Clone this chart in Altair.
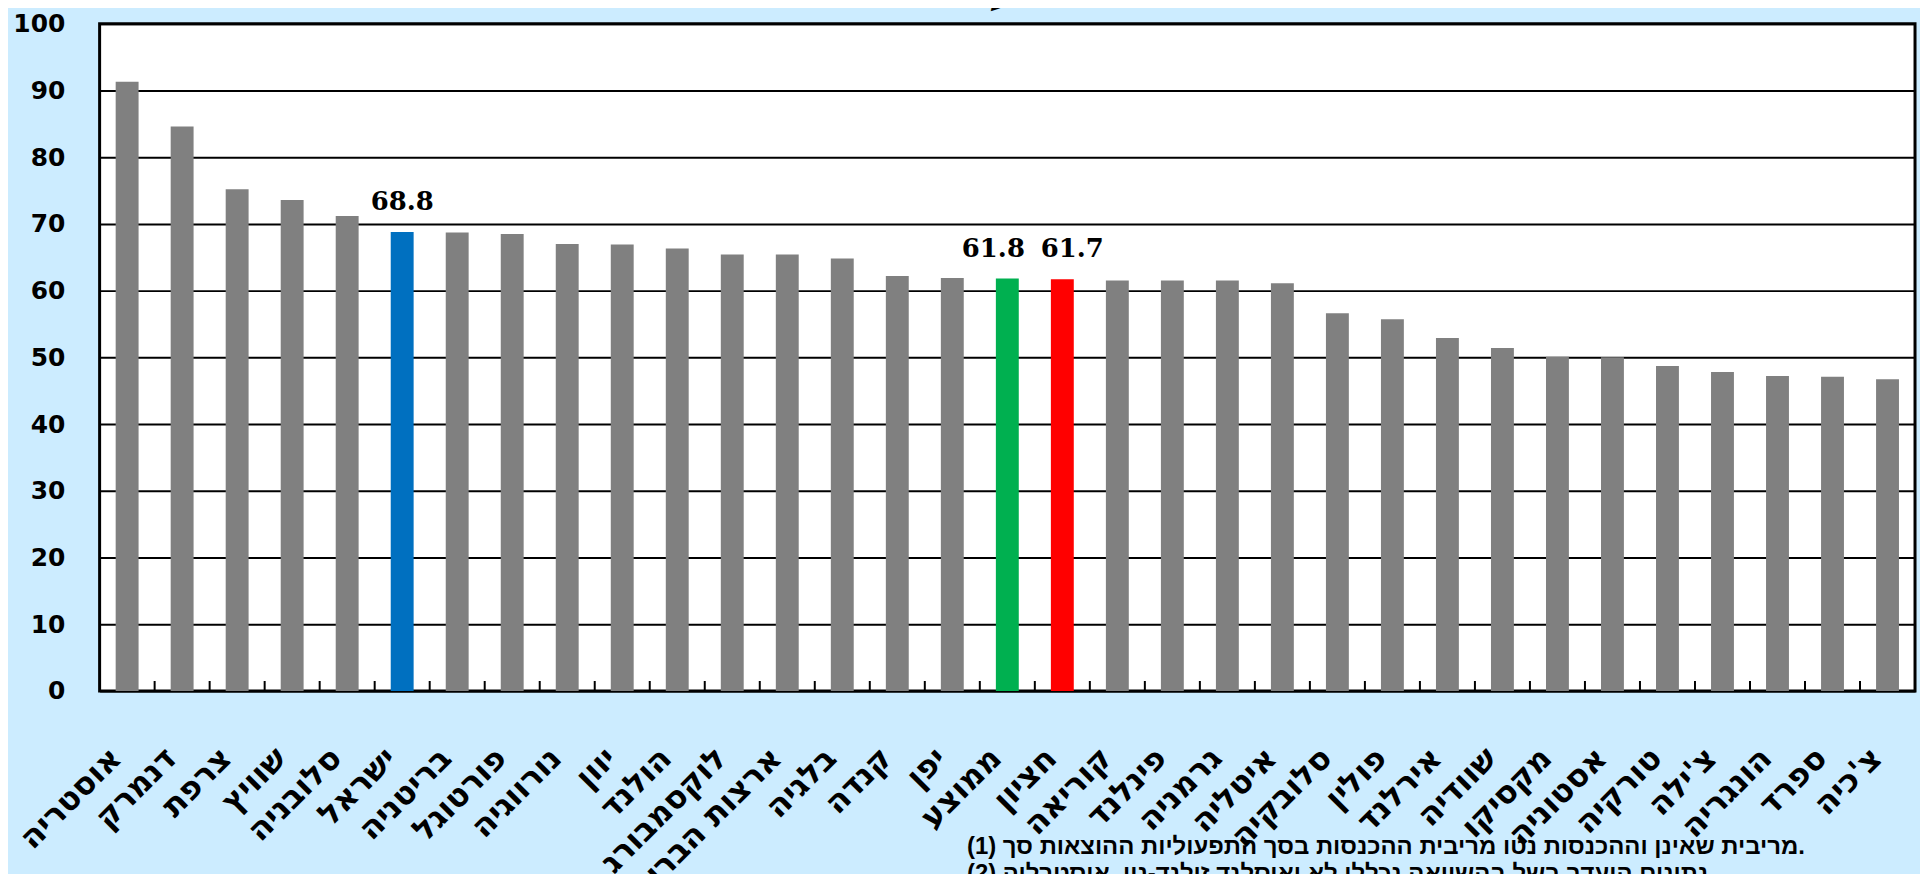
import altair as alt
import pandas as pd

countries = [
    "אוסטריה", "דנמרק", "צרפת", "שוויץ", "סלובניה", "ישראל", "בריטניה",
    "פורטוגל", "נורווגיה", "יוון", "הולנד", "לוקסמבורג", "ארצות הברית",
    "בלגיה", "קנדה", "יפן", "ממוצע", "חציון", "קוריאה", "פינלנד", "גרמניה",
    "איטליה", "סלובקיה", "פולין", "אירלנד", "שוודיה", "מקסיקו", "אסטוניה",
    "טורקיה", "צ'ילה", "הונגריה", "ספרד", "צ'כיה",
]
values = [
    91.3, 84.6, 75.2, 73.6, 71.2, 68.8, 68.7,
    68.5, 67.0, 66.9, 66.3, 65.4, 65.4,
    64.8, 62.2, 61.9, 61.8, 61.7, 61.5, 61.5, 61.5,
    61.1, 56.6, 55.7, 52.9, 51.4, 50.1, 50.0,
    48.7, 47.8, 47.2, 47.1, 46.7,
]
highlight_names = ["ישראל", "ממוצע", "חציון"]
highlight_colors = ["#0070C0", "#00B050", "#FF0000"]
other_color = "#808080"
y_ticks = [0, 10, 20, 30, 40, 50, 60, 70, 80, 90, 100]
title_text = "\u202B2012 עד 2013\u202C"
footnotes = [
    "(1) סך ההוצאות התפעוליות בסך ההכנסות מריבית נטו וההכנסות שאינן מריבית.",
    "(2) אוסטרליה, ניו-זילנד ואיסלנד לא נכללו בהשוואה בשל היעדר נתונים.",
]

# horizontal nudges of the value labels (style only)
label_dx = {"ישראל": 0, "ממוצע": -14, "חציון": 10}

W, H = 1823, 670
band = W / len(countries)
LRM = "\u200E"


def ltr_words(s):
    # the reference lays the footnote words out left to right
    body = LRM + s.replace(" ", LRM + " " + LRM).replace("-", LRM + "-" + LRM)
    return "\u2066" + body + "\u2069"


df = pd.DataFrame({
    "country": countries,
    "value": values,
    "group": [c if c in highlight_names else "other" for c in countries],
})
tick_df = pd.DataFrame({"country": countries[:-1]})
title_df = pd.DataFrame({"text": [title_text]})

xscale = alt.Scale(domain=countries, paddingInner=0, paddingOuter=0)
yscale = alt.Scale(domain=[0, 100], nice=False)

bars = alt.Chart(df).mark_bar(size=23).encode(
    x=alt.X("country:N", sort=countries, scale=xscale, title=None,
            axis=alt.Axis(labelAngle=-45, labelAlign="right", labelBaseline="middle",
                          labelFont="DejaVu Sans", labelFontSize=32,
                          labelFontWeight="bold", labelColor="black",
                          labelPadding=62, labelOffset=-11, ticks=False,
                          domain=False, grid=False, labelOverlap=False,
                          labelLimit=400)),
    y=alt.Y("value:Q", scale=yscale, title=None,
            axis=alt.Axis(values=y_ticks, grid=True, gridColor="black",
                          gridWidth=2, gridOpacity=1, domain=False, ticks=False,
                          labelFont="DejaVu Sans", labelFontSize=25,
                          labelFontWeight="bold", labelColor="black",
                          labelPadding=35)),
    color=alt.Color("group:N", legend=None,
                    scale=alt.Scale(domain=highlight_names + ["other"],
                                    range=highlight_colors + [other_color])),
)

value_layers = []
for name in highlight_names:
    value_layers.append(
        alt.Chart(df[df["country"] == name]).mark_text(
            font="DejaVu Serif", fontSize=26, fontWeight="bold", color="black",
            baseline="alphabetic", dy=-22, dx=label_dx[name],
        ).encode(
            x=alt.X("country:N", sort=countries, title=None),
            y=alt.Y("value:Q", title=None),
            text=alt.Text("value:Q", format=".1f"),
        )
    )

ticks = alt.Chart(tick_df).mark_rule(color="black", strokeWidth=2, xOffset=band / 2).encode(
    x=alt.X("country:N", sort=countries, title=None),
    y=alt.value(H),
    y2=alt.value(H - 10),
)

foot_layers = []
for i, line in enumerate(footnotes):
    foot_layers.append(
        alt.Chart(pd.DataFrame({"text": [ltr_words(line)]})).mark_text(
            font="Liberation Sans", fontSize=24, fontWeight="bold", color="black",
            align="left", baseline="alphabetic", dir="ltr",
        ).encode(
            x=alt.value(871),
            y=alt.value(H + 164 + 27 * i),
            text="text:N",
        )
    )

title = alt.Chart(title_df).mark_text(
    font="DejaVu Sans", fontSize=30, fontWeight="bold", fontStyle="italic",
    color="black", align="center", baseline="bottom",
).encode(
    x=alt.value(895),
    y=alt.value(-10),
    text="text:N",
)

chart = alt.layer(bars, ticks, *value_layers, *foot_layers, title).properties(
    width=W, height=H,
    background="#CCECFF",
    autosize=alt.AutoSizeParams(type="none"),
    padding={"left": 92, "top": 14, "right": 5, "bottom": 182},
).configure_view(
    fill="white", stroke="black", strokeWidth=3,
)

chart.save("out.html", embed_options={"renderer": "svg", "actions": False})
